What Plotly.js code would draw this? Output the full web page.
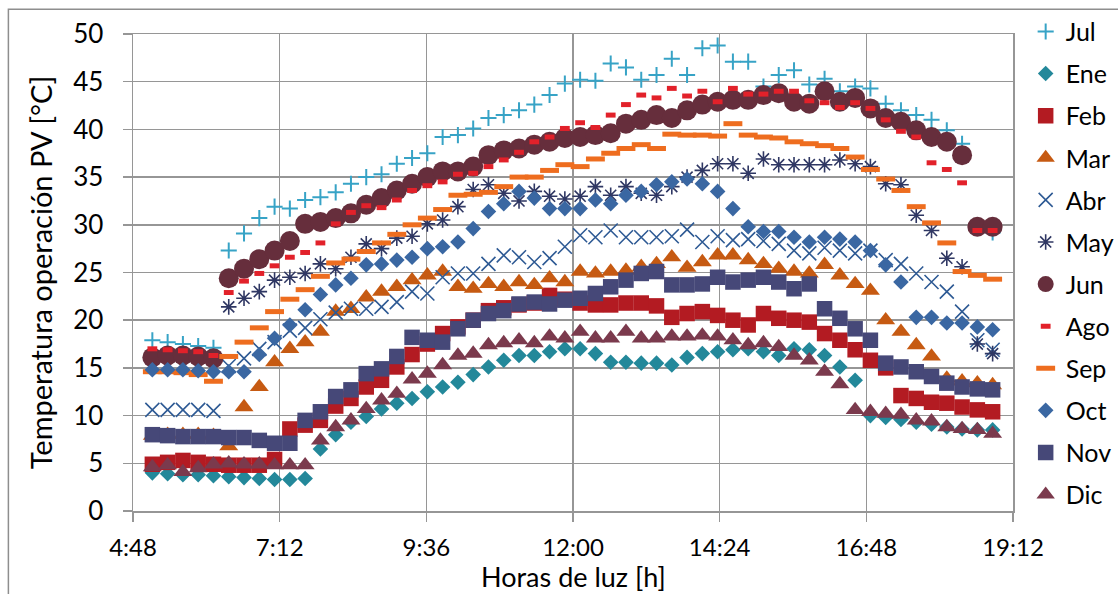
<!DOCTYPE html>
<html>
<head>
<meta charset="utf-8">
<script src="https://cdn.plot.ly/plotly-3.0.1.min.js"></script>
<style>
  html, body { margin: 0; padding: 0; background: #ffffff; }
  #chart { width: 1118px; height: 594px; }
</style>
</head>
<body>
<div id="chart"></div>
<script>
// Measurement times (hh:mm)
const times = ["5:07","5:22","5:37","5:52","6:07","6:22","6:37","6:52","7:07","7:22","7:37","7:52",
  "8:07","8:22","8:37","8:52","9:07","9:22","9:37","9:52","10:07","10:22","10:37","10:52",
  "11:07","11:22","11:37","11:52","12:07","12:22","12:37","12:52","13:07","13:22","13:37","13:52",
  "14:07","14:22","14:37","14:52","15:07","15:22","15:37","15:52","16:07","16:22","16:37","16:52",
  "17:07","17:22","17:37","17:52","18:07","18:22","18:37","18:52"];

// Axis ticks and titles
const xTickVals = [4.8, 7.2, 9.6, 12.0, 14.4, 16.8, 19.2];
const xTickText = ["4:48", "7:12", "9:36", "12:00", "14:24", "16:48", "19:12"];
const xTitle = "Horas de luz [h]";
const yTitle = "Temperatura operación PV [°C]";

// Monthly PV operating temperature [°C]
const jul = [17.9,17.7,17.5,17.3,17.1,27.3,29.1,30.7,31.9,31.7,32.6,32.9,33.4,34.3,35.0,35.3,36.4,37.0,37.5,39.2,
  39.4,40.1,41.2,41.5,42.0,42.6,43.6,44.8,45.2,45.1,46.9,46.5,45.2,45.7,47.4,45.7,48.5,48.8,47.1,47.1,
  44.5,45.7,46.2,44.7,45.3,44.0,44.5,44.3,42.7,42.0,41.5,41.0,39.9,38.5,29.8,29.2];
const ene = [4.0,3.9,3.8,3.8,3.7,3.6,3.5,3.4,3.3,3.3,3.4,6.5,8.0,9.3,9.9,10.7,11.3,11.8,12.5,13.0,
  13.5,14.3,15.1,15.8,16.3,16.3,16.7,17.0,17.0,16.5,15.6,15.6,15.5,15.5,15.3,16.1,16.5,16.7,16.9,17.0,
  16.7,16.3,17.0,16.9,16.3,15.1,13.7,10.0,9.8,9.6,9.3,9.1,8.8,8.6,8.5,8.5];
const feb = [4.9,5.1,5.3,5.1,4.9,4.8,4.8,4.8,5.4,8.6,9.0,9.5,11.0,11.8,13.0,13.7,15.1,16.4,17.5,18.6,
  19.3,20.0,21.0,21.3,21.6,21.8,22.6,22.2,21.8,21.6,21.6,21.8,21.8,21.5,20.3,20.7,20.9,20.5,20.0,19.5,
  20.7,20.2,20.0,19.8,18.6,17.9,16.9,15.8,15.0,12.1,11.8,11.4,11.3,10.9,10.6,10.4];
const mar = [7.9,8.0,8.0,8.0,7.9,6.8,10.9,13.0,15.6,17.0,17.7,18.8,20.9,21.2,22.4,23.0,23.5,24.2,24.7,25.1,
  23.5,23.3,23.8,23.5,24.0,23.7,24.4,24.0,25.1,24.9,25.1,25.2,25.6,25.9,26.6,25.5,26.1,26.8,26.8,26.3,
  25.9,25.4,25.1,24.9,25.8,24.7,23.8,23.1,20.0,18.8,17.4,16.2,13.9,13.6,13.4,13.2];
const abr = [10.6,10.6,10.6,10.6,10.5,15.2,16.0,17.0,17.7,18.9,19.2,20.1,20.8,21.2,21.2,21.4,21.9,23.0,22.8,24.5,
  24.9,24.9,25.9,26.8,26.6,26.1,26.5,27.7,28.9,28.7,29.4,28.7,28.7,28.7,28.8,29.5,28.2,28.8,28.4,28.5,
  28.3,28.0,27.3,27.0,27.6,27.3,27.0,27.3,26.3,25.9,24.9,24.0,23.0,20.9,17.9,16.9];
const may = [null,null,null,null,null,21.4,22.3,23.0,24.2,24.5,24.9,25.9,25.4,26.6,28.0,27.5,28.6,28.8,30.1,30.5,
  31.9,33.7,34.2,33.3,32.5,33.5,33.0,32.7,33.0,34.0,33.1,34.0,33.3,33.1,34.0,35.0,35.7,36.4,36.4,35.4,
  36.9,36.3,36.3,36.3,36.3,36.8,36.4,36.1,34.3,34.2,31.0,29.4,26.5,25.6,17.5,16.5];
const jun = [16.1,16.3,16.3,16.2,16.0,24.4,25.4,26.4,27.3,28.3,30.1,30.3,30.7,31.2,32.1,32.8,33.6,34.3,35.0,35.6,
  35.6,36.1,37.3,37.8,38.0,38.4,38.7,39.1,39.2,39.4,39.6,40.6,41.0,41.5,41.2,42.0,42.6,42.9,43.1,43.1,
  43.6,43.8,42.9,42.7,44.0,42.9,43.3,42.2,41.2,40.8,39.9,39.2,38.7,37.3,29.8,29.8];
const ago = [17.0,16.9,16.8,16.7,16.3,22.9,24.1,24.9,25.7,26.6,27.1,28.1,30.1,31.3,32.0,31.8,32.6,33.6,34.1,34.5,
  35.3,35.4,36.1,36.8,37.6,38.7,39.2,40.1,40.7,40.2,41.5,42.6,43.6,43.3,44.3,43.5,44.0,42.9,44.3,43.7,
  43.7,44.0,44.0,43.0,42.8,42.3,42.8,42.2,41.0,39.8,39.2,36.5,35.8,34.4,29.4,29.4];
const sep = [14.6,14.6,14.5,14.3,13.6,16.2,17.7,19.2,20.9,22.2,23.2,24.6,26.0,26.4,27.2,28.1,29.0,30.0,30.7,31.6,
  33.1,33.2,33.4,34.0,35.0,35.0,35.7,36.3,36.1,36.9,37.5,38.0,38.4,38.0,39.5,39.4,39.4,39.3,40.6,39.4,
  39.2,39.1,38.7,38.5,38.3,38.0,37.1,35.8,34.8,33.6,31.9,30.2,28.1,25.1,24.7,24.3];
const oct = [14.8,14.8,14.8,14.7,14.6,14.6,14.6,16.4,18.1,19.5,21.1,22.7,23.7,24.4,25.8,25.9,26.3,26.6,27.5,27.7,
  28.2,29.6,31.4,32.2,33.5,32.8,31.7,31.7,31.7,32.6,32.2,33.1,33.5,34.2,34.5,34.8,34.3,33.5,31.7,29.8,
  29.3,29.3,28.7,28.2,28.7,28.5,28.2,27.3,25.8,24.0,20.3,20.3,19.7,19.7,19.3,19.0];
const nov = [8.0,7.9,7.8,7.8,7.8,7.7,7.7,7.4,7.1,7.1,9.5,10.4,12.0,12.7,14.4,14.9,16.2,18.2,17.9,17.7,
  19.1,20.0,20.7,21.0,21.7,21.9,21.7,22.1,22.3,22.8,23.5,24.2,24.9,25.1,23.7,23.7,23.8,24.5,24.0,24.2,
  24.5,24.0,23.3,23.8,21.2,20.2,19.1,17.9,15.5,15.1,14.6,14.1,13.4,13.0,12.8,12.7];
const dic = [4.6,4.8,4.1,4.5,4.9,5.0,4.9,4.9,4.8,4.8,4.8,7.4,8.8,9.5,10.7,11.6,12.3,13.8,14.4,15.3,
  16.3,16.5,17.4,17.6,17.9,17.6,18.3,18.1,18.8,18.1,18.1,18.8,18.1,18.1,18.3,18.3,18.4,18.3,17.9,17.4,
  17.6,17.2,16.3,15.8,14.6,13.3,10.6,10.4,10.2,10.1,9.5,9.4,8.8,8.6,8.5,8.1];

const hours = times.map(t => { const p = t.split(":"); return Number(p[0]) + Number(p[1]) / 60; });

function mk(name, y, symbol, color, size, lineW, filled) {
  const marker = { symbol: symbol, size: size, color: color };
  if (filled) {
    marker.line = { width: 0 };
  } else {
    marker.line = { width: lineW, color: color };
  }
  return {
    type: "scatter", mode: "markers", name: name, x: hours, y: y,
    marker: marker, legendgroup: name, cliponaxis: false
  };
}

const data = [
  mk("Jul", jul, "cross-thin-open", "#37A3C6", 11.5, 2, false),
  mk("Ene", ene, "diamond", "#23889A", 12, 0, true),
  mk("Feb", feb, "square", "#B31B22", 15.5, 0, true),
  mk("Mar", mar, "triangle-up", "#C65A12", 16.5, 0, true),
  mk("Abr", abr, "x-thin-open", "#2E5A94", 14, 1.6, false),
  mk("May", may, "asterisk-open", "#2F3763", 13, 1.6, false),
  mk("Jun", jun, "circle", "#662E3C", 20, 0, true),
  mk("Ago", ago, "line-ew-open", "#E2212A", 7, 5, false),
  mk("Sep", sep, "line-ew-open", "#EE6D1F", 13.5, 5, false),
  mk("Oct", oct, "diamond", "#3A67A2", 12, 0, true),
  mk("Nov", nov, "square", "#464878", 15.5, 0, true),
  mk("Dic", dic, "triangle-up", "#7B3A4D", 16.5, 0, true)
];

const gridCol = "#969696";
const FONT = "Lato, 'DejaVu Sans', sans-serif";

const layout = {
  width: 1118, height: 594,
  paper_bgcolor: "#ffffff", plot_bgcolor: "#ffffff",
  margin: { l: 133, r: 105, t: 34, b: 83, autoexpand: false },
  font: { family: FONT, color: "#000000", size: 25 },
  showlegend: true,
  legend: {
    x: 1.0144, xanchor: "left", y: 1.053, yanchor: "top",
    font: { family: FONT, size: 25, color: "#000000" },
    tracegroupgap: 6.6, bgcolor: "rgba(0,0,0,0)", borderwidth: 0,
    itemwidth: 30, maxheight: 590
  },
  xaxis: {
    range: [4.8, 19.2], tickmode: "array", tickvals: xTickVals, ticktext: xTickText,
    showgrid: true, gridcolor: gridCol, gridwidth: 1.5,
    showline: true, linecolor: gridCol, linewidth: 1.5, mirror: true,
    ticks: "outside", ticklen: 9, tickwidth: 1.5, tickcolor: gridCol,
    tickfont: { family: FONT, size: 24, color: "#000000" },
    ticklabelstandoff: 6,
    zeroline: false, fixedrange: true
  },
  yaxis: {
    range: [0, 50], tickmode: "linear", tick0: 0, dtick: 5,
    showgrid: true, gridcolor: gridCol, gridwidth: 1.5,
    showline: true, linecolor: gridCol, linewidth: 1.5, mirror: true,
    ticks: "outside", ticklen: 9, tickwidth: 1.5, tickcolor: gridCol,
    tickfont: { family: FONT, size: 26, color: "#000000" },
    ticklabelstandoff: 14,
    zeroline: false, fixedrange: true,
    title: { text: yTitle, font: { family: FONT, size: 29, color: "#000000" }, standoff: 12 }
  },
  annotations: [{
    text: xTitle, xref: "paper", yref: "paper", x: 0.5, y: -0.1746,
    xanchor: "center", yanchor: "bottom", showarrow: false, borderpad: 0,
    font: { family: FONT, size: 27, color: "#000000" }
  }],
  shapes: [{
    type: "rect", xref: "paper", yref: "paper",
    x0: -0.1416, x1: 1.127, y0: -0.19, y1: 1.0518,
    line: { color: "#8e8e8e", width: 1.5 }, fillcolor: "rgba(0,0,0,0)", layer: "below"
  }]
};

Plotly.newPlot("chart", data, layout, { staticPlot: true, displayModeBar: false });
</script>
</body>
</html>
